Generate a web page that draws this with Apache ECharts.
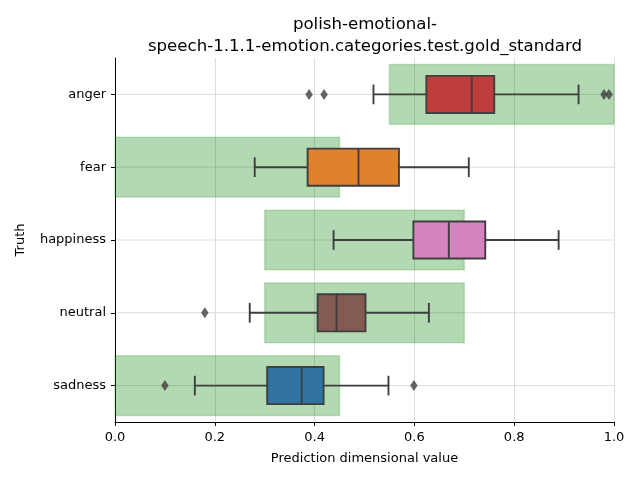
<!DOCTYPE html>
<html>
<head>
<meta charset="utf-8">
<script src="https://cdn.jsdelivr.net/npm/echarts@6/dist/echarts.min.js"></script>
<style>html,body{margin:0;padding:0;background:#fff}#c{width:640px;height:480px}</style>
</head>
<body>
<div id="c"></div>
<script>
var categories = ['anger', 'fear', 'happiness', 'neutral', 'sadness'];
// [whisker low, Q1, median, Q3, whisker high]
var boxValues = [
  [0.518, 0.624, 0.715, 0.760, 0.929],
  [0.280, 0.386, 0.488, 0.569, 0.709],
  [0.438, 0.598, 0.669, 0.742, 0.889],
  [0.270, 0.406, 0.444, 0.502, 0.629],
  [0.160, 0.305, 0.374, 0.418, 0.548]
];
var boxColors = ['#c03d3e', '#e1812c', '#d684bd', '#845b53', '#3274a1'];
// outliers: [category, value]
var outliers = [
  ['anger', 0.389], ['anger', 0.419], ['anger', 0.980], ['anger', 0.990],
  ['neutral', 0.180],
  ['sadness', 0.100], ['sadness', 0.599]
];
// gold standard ranges [low, high]
var goldRanges = [
  [0.55, 1.0],
  [0.0, 0.45],
  [0.3, 0.7],
  [0.3, 0.7],
  [0.0, 0.45]
];
var xTicks = [0, 0.2, 0.4, 0.6, 0.8, 1.0];

var FONT = 'DejaVu Sans';
var LINE = '#3f3f3f';
var chart = echarts.init(document.getElementById('c'), null, {renderer: 'canvas'});

var rangeData = goldRanges.map(function (r, i) { return [i, r[0], r[1]]; });
var gridData = categories.map(function (c, i) { return [i]; });
var boxData = boxValues.map(function (v, i) { return [i].concat(v); });

var option = {
  animation: false,
  backgroundColor: '#ffffff',
  title: {
    text: 'polish-emotional-\nspeech-1.1.1-emotion.categories.test.gold_standard',
    left: 360,
    top: 9,
    textAlign: 'center',
    textStyle: {fontFamily: FONT, fontSize: 16.6, fontWeight: 'normal', color: '#000', lineHeight: 22}
  },
  grid: {left: 115, right: 26, top: 58, bottom: 58},
  xAxis: {
    type: 'value',
    min: 0, max: 1, interval: 0.2,
    name: 'Prediction dimensional value',
    nameLocation: 'middle',
    nameGap: 30,
    nameTextStyle: {fontFamily: FONT, fontSize: 13, color: '#000'},
    axisLine: {show: true, lineStyle: {color: '#000', width: 1}},
    axisTick: {show: true, length: 4, lineStyle: {color: '#000'}},
    axisLabel: {
      fontFamily: FONT, fontSize: 13, color: '#000', margin: 9,
      formatter: function (v) {
        var t = xTicks.filter(function (x) { return Math.abs(x - v) < 1e-9; });
        return t.length ? t[0].toFixed(1) : '';
      }
    },
    splitLine: {show: true, lineStyle: {color: '#dcdcdc', width: 1}}
  },
  yAxis: {
    type: 'category',
    data: categories,
    inverse: true,
    name: 'Truth',
    nameLocation: 'middle',
    nameGap: 88,
    nameTextStyle: {fontFamily: FONT, fontSize: 13, color: '#000'},
    axisLine: {show: true, lineStyle: {color: '#000', width: 1}},
    axisTick: {show: true, alignWithLabel: true, length: 4, lineStyle: {color: '#000'}},
    axisLabel: {fontFamily: FONT, fontSize: 13, color: '#000', margin: 9},
    splitLine: {show: false}
  },
  series: [
    {
      type: 'custom',
      name: 'grid',
      z: 0,
      silent: true,
      data: gridData,
      renderItem: function (params, api) {
        var p0 = api.coord([0, api.value(0)]);
        var p1 = api.coord([1, api.value(0)]);
        return {type: 'line', shape: {x1: p0[0], y1: p0[1], x2: p1[0], y2: p1[1]},
          style: {stroke: '#dcdcdc', lineWidth: 1}};
      },
      encode: {y: 0}
    },
    {
      type: 'custom',
      name: 'gold',
      z: 1,
      silent: true,
      data: rangeData,
      renderItem: function (params, api) {
        var c = api.value(0);
        var a = api.coord([api.value(1), c]);
        var b = api.coord([api.value(2), c]);
        var band = api.size([0, 1])[1];
        var h = band * 0.82;
        return {
          type: 'rect',
          shape: {x: a[0], y: a[1] - h / 2, width: b[0] - a[0], height: h},
          style: {fill: 'rgba(0,128,0,0.3)', stroke: 'rgba(0,128,0,0.2)', lineWidth: 1.5}
        };
      },
      encode: {x: [1, 2], y: 0}
    },
    {
      type: 'custom',
      name: 'box',
      z: 3,
      silent: true,
      data: boxData,
      renderItem: function (params, api) {
        var c = api.value(0);
        var band = api.size([0, 1])[1];
        var bh = band * 0.51;
        var ch = bh * 0.53;
        var p = [1, 2, 3, 4, 5].map(function (d) { return api.coord([api.value(d), c]); });
        var y = p[0][1];
        var ls = {stroke: LINE, lineWidth: 1.9};
        return {
          type: 'group',
          children: [
            {type: 'line', shape: {x1: p[0][0], y1: y, x2: p[1][0], y2: y}, style: ls},
            {type: 'line', shape: {x1: p[3][0], y1: y, x2: p[4][0], y2: y}, style: ls},
            {type: 'line', shape: {x1: p[0][0], y1: y - ch / 2, x2: p[0][0], y2: y + ch / 2}, style: ls},
            {type: 'line', shape: {x1: p[4][0], y1: y - ch / 2, x2: p[4][0], y2: y + ch / 2}, style: ls},
            {type: 'rect', shape: {x: p[1][0], y: y - bh / 2, width: p[3][0] - p[1][0], height: bh},
              style: {fill: boxColors[params.dataIndex], stroke: LINE, lineWidth: 1.9}},
            {type: 'line', shape: {x1: p[2][0], y1: y - bh / 2, x2: p[2][0], y2: y + bh / 2}, style: ls}
          ]
        };
      },
      encode: {x: [1, 2, 3, 4, 5], y: 0}
    },
    {
      type: 'scatter',
      z: 4,
      symbol: 'diamond',
      symbolSize: [7.5, 11],
      itemStyle: {color: LINE},
      data: outliers.map(function (o) { return [o[1], o[0]]; })
    }
  ]
};
chart.setOption(option);
</script>
</body>
</html>
